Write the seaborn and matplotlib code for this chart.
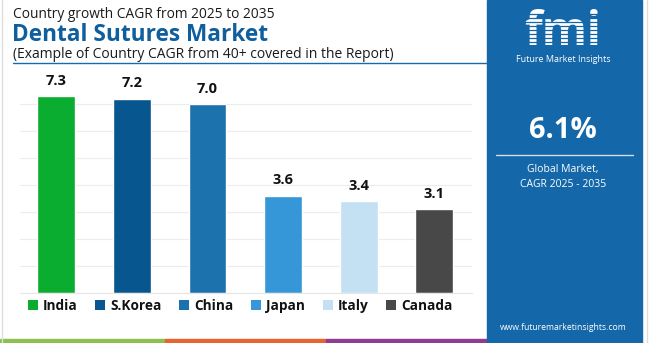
import matplotlib
matplotlib.use("Agg")
import matplotlib.pyplot as plt
from matplotlib.patches import Rectangle, Patch
from matplotlib.lines import Line2D
import seaborn as sns
import pandas as pd

countries = ["India", "S.Korea", "China", "Japan", "Italy", "Canada"]
cagr = [7.3, 7.2, 7.0, 3.6, 3.4, 3.1]
colors = ["#0aad2f", "#08568f", "#1b72ad", "#3597d7", "#c4e1f3", "#484848"]
y_ticks = [0, 1, 2, 3, 4, 5, 6, 7]

title_top = "Country growth CAGR from 2025 to 2035"
title_main = "Dental Sutures Market"
title_sub = "(Example of Country CAGR from 40+ covered in the Report)"
global_value = "6.1%"
global_caption = "Global Market,\nCAGR 2025 - 2035"
website = "www.futuremarketinsights.com"

df = pd.DataFrame({"country": countries, "cagr": cagr})

sns.set_theme(style="white")
plt.rcParams["font.family"] = ["Open Sans", "DejaVu Sans"]

W, H = 650, 343
fig = plt.figure(figsize=(W / 100, H / 100), dpi=100)
fig.patch.set_facecolor("white")


def fx(px):
    return px / W


def fy(py):
    return 1 - py / H


ax = fig.add_axes([fx(20), fy(293), fx(472) - fx(20), fy(77) - fy(293)])
sns.barplot(data=df, x="country", y="cagr", hue="country", palette=colors,
            width=0.5, legend=False, ax=ax, saturation=1)
ax.set_ylim(0, 8)
ax.set_xlim(-0.48, 5.5)
ax.set_yticks(y_ticks)
ax.yaxis.grid(True, color="#ececec", linewidth=0.8)
ax.set_axisbelow(True)
ax.tick_params(left=False, bottom=False, labelleft=False, labelbottom=False)
ax.set_xlabel("")
ax.set_ylabel("")
for side in ["top", "right", "left"]:
    ax.spines[side].set_visible(False)
ax.spines["bottom"].set_color("#e6e6e6")
ax.spines["bottom"].set_linewidth(0.8)

for patch, val in zip(ax.patches, cagr):
    ax.annotate(f"{val:.1f}", (patch.get_x() + patch.get_width() / 2, patch.get_height()),
                xytext=(0, 6), textcoords="offset points", ha="center", va="bottom",
                fontsize=10.5, fontweight="bold", color="#111111")

handles = [Patch(facecolor=c, edgecolor="none") for c in colors]
leg = fig.legend(handles, countries, loc="center", bbox_to_anchor=(fx(240), fy(306)),
                 ncol=6, frameon=False, handlelength=0.75, handleheight=0.75,
                 handletextpad=0.35, columnspacing=1.3,
                 prop={"weight": "bold", "size": 9.8})
for t in leg.get_texts():
    t.set_color("#111111")

# titles
fig.text(fx(13), fy(15), title_top, fontsize=9.9, color="#1a1a1a", va="center", ha="left")
fig.text(fx(12), fy(35), title_main, fontsize=16.3, fontweight="bold", color="#0f5f9f",
         va="center", ha="left")
fig.text(fx(13), fy(54), title_sub, fontsize=10, color="#1a1a1a", va="center", ha="left")
fig.add_artist(Line2D([fx(13), fx(487)], [fy(62.5), fy(62.5)], color="#1b6aa8", linewidth=1.0))

# frame edges
fig.add_artist(Line2D([fx(1.5), fx(1.5)], [fy(0), fy(343)], color="#dddddd", linewidth=1.0))
fig.add_artist(Line2D([fx(646.5), fx(646.5)], [fy(0), fy(343)], color="#dddddd", linewidth=1.0))

# bottom stripe
for x0, x1, c in [(0, 165, "#8cc152"), (165, 326, "#e8632f"), (326, 487, "#8e3b91")]:
    fig.add_artist(Rectangle((fx(x0), 0), fx(x1) - fx(x0), fy(339), color=c, transform=fig.transFigure))

# side panel
panel_blue = "#1467a9"
fig.add_artist(Rectangle((fx(487), 0), fx(642) - fx(487), 1, color=panel_blue,
                         transform=fig.transFigure, zorder=1))
fig.text(fx(563), fy(45), "fmi", fontsize=33, fontweight="bold", color="white",
         ha="center", va="baseline", zorder=3)
for yy in range(14, 46, 4):
    fig.add_artist(Line2D([fx(510), fx(618)], [fy(yy), fy(yy)], color=panel_blue,
                          linewidth=0.9, zorder=4))
fig.text(fx(563), fy(60), "Future Market Insights", fontsize=6.5, color="white",
         ha="center", va="center", zorder=3)
fig.text(fx(563), fy(130), global_value, fontsize=21, fontweight="bold", color="white",
         ha="center", va="center", zorder=3)
fig.add_artist(Line2D([fx(496), fx(633)], [fy(155), fy(155)], color="#cfe0f0",
                      linewidth=1.0, zorder=3))
fig.text(fx(563), fy(177), global_caption, fontsize=7.5, color="white", ha="center",
         va="center", linespacing=1.5, zorder=3)
fig.text(fx(563), fy(327), website, fontsize=6.2, color="white", ha="center",
         va="center", zorder=3)

fig.savefig("out.png", dpi=100)
